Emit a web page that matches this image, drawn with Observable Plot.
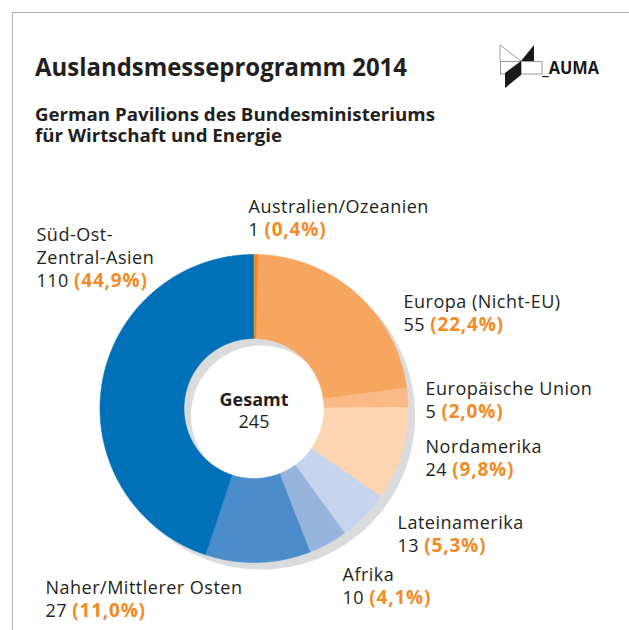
<!DOCTYPE html>
<html>
<head>
<meta charset="utf-8">
<script src="https://cdn.jsdelivr.net/npm/d3@7"></script>
<script src="https://cdn.jsdelivr.net/npm/@observablehq/plot@0.6"></script>
<style>
  body { margin: 0; background: #fff; }
  #page { position: relative; width: 629px; height: 630px; overflow: hidden; background: #fff; }
  #frame { position: absolute; left: 12px; top: 12px; width: 700px; height: 700px;
           border-left: 1.5px solid #b4b4b4; border-top: 1.5px solid #b4b4b4; box-sizing: border-box; }
  #header { position: absolute; left: 0; top: 0; }
  #chart { position: absolute; left: 0; top: 170px; }
  text { font-family: "Open Sans", sans-serif; }
</style>
</head>
<body>
<div id="page">
  <div id="frame"></div>
  <svg id="header" width="629" height="170" xmlns="http://www.w3.org/2000/svg">
    <text id="t1" x="35" y="76" font-size="25" font-weight="700" fill="#231f20">Auslandsmesseprogramm 2014</text>
    <text id="s1" x="35" y="121" font-size="17" font-weight="700" fill="#231f20">German Pavilions des Bundesministeriums</text>
    <text id="s2" x="35" y="142" font-size="17" font-weight="700" fill="#231f20">für Wirtschaft und Energie</text>
    <g id="logo">
      <polyline points="500,61 500,45 521,61" fill="none" stroke="#9a9a9a" stroke-width="1"/>
      <rect x="500.5" y="61.5" width="20.5" height="12.5" fill="none" stroke="#9a9a9a" stroke-width="1"/>
      <rect x="521" y="61.5" width="21" height="12.5" fill="none" stroke="#9a9a9a" stroke-width="1"/>
      <polygon points="534,45 534,61 521,61" fill="#1a1a1a"/>
      <polygon points="521,61 521,75 505,88 505,73" fill="#1a1a1a"/>
      <text id="logoText" x="542" y="74" font-size="18" font-weight="700" fill="#1a1a1a">_AUMA</text>
    </g>
  </svg>
  <div id="chart"></div>
</div>
<script>
// ---------- data ----------
const regions = ["Australien/Ozeanien", "Europa (Nicht-EU)", "Europäische Union", "Nordamerika",
                 "Lateinamerika", "Afrika", "Naher/Mittlerer Osten", "Süd-Ost-Zentral-Asien"];
const labelNames = ["Australien/Ozeanien", "Europa (Nicht-EU)", "Europäische Union", "Nordamerika",
                    "Lateinamerika", "Afrika", "Naher/Mittlerer Osten", "Süd-Ost-\nZentral-Asien"];
const counts = [1, 55, 5, 24, 13, 10, 27, 110];
const shares = ["0,4%", "22,4%", "2,0%", "9,8%", "5,3%", "4,1%", "11,0%", "44,9%"];
const sliceColors = ["#f18a2b", "#f7a660", "#f9ba87", "#fdd5b0", "#c6d4ee", "#96b4dc", "#4a8dca", "#0071b9"];
const centerTitle = "Gesamt";

// ---------- layout (annotation placement, px relative to donut centre, y up) ----------
const labelX = [-5.5, 149.5, 171.5, 171.5, 143.5, 88.5, -208.5, -217.5];
const labelY = [196, 101, 14, -44, -120, -172, -185, 168];
const R_OUT = 154, R_IN = 70, SHADOW = 7, LINE_H = 23, FS = 18, LS = 0.5, FS_PCT = 19, LS_PCT = 0.8;
const DARK = "#231f20", ORANGE = "#f28a26", FONT = "Open Sans";

// header text compression to match reference widths
function fit(id, w) {
  const el = document.getElementById(id);
  const n = el.getComputedTextLength();
  el.setAttribute("textLength", w);
  el.setAttribute("lengthAdjust", "spacingAndGlyphs");
  return w / n;
}
fit("t1", 372);
const k = fit("s1", 400);
const s2 = document.getElementById("s2");
fit("s2", s2.getComputedTextLength() * k);
fit("logoText", 57);

// ---------- geometry ----------
const total = d3.sum(counts);
const arcs = d3.pie().sort(null).value(d => d)(counts);
function ring(a0, a1, ro, ri, cx = 0, cy = 0) {
  const n = Math.max(2, Math.ceil((a1 - a0) / (Math.PI / 360)));
  const pts = [];
  for (let i = 0; i <= n; i++) { const a = a0 + (a1 - a0) * i / n; pts.push({x: cx + ro * Math.sin(a), y: cy + ro * Math.cos(a)}); }
  for (let i = n; i >= 0; i--) { const a = a0 + (a1 - a0) * i / n; pts.push({x: cx + ri * Math.sin(a), y: cy + ri * Math.cos(a)}); }
  pts.push(pts[0]);
  return pts;
}
function disc(r, cx, cy) {
  const pts = [];
  for (let i = 0; i <= 720; i++) { const a = 2 * Math.PI * i / 720; pts.push({x: cx + r * Math.sin(a), y: cy + r * Math.cos(a)}); }
  return pts;
}

// text measuring for the mixed-style count line
const ctx = document.createElement("canvas").getContext("2d");
ctx.font = `${FS}px "${FONT}"`;
const nameRows = [], countRows = [], shareRows = [];
labelNames.forEach((name, i) => {
  const lines = name.split("\n");
  lines.forEach((t, j) => nameRows.push({x: labelX[i], y: labelY[i] - j * LINE_H, t}));
  const yb = labelY[i] - lines.length * LINE_H;
  const c = String(counts[i]);
  countRows.push({x: labelX[i], y: yb, t: c});
  const w = ctx.measureText(c + " ").width + LS * (c.length + 1);
  shareRows.push({x: labelX[i] + w, y: yb, t: `(${shares[i]})`});
});

const order = [1, 2, 3, 4, 5, 6, 7, 0]; // draw thin sliver last
const sliceMarks = order.map(i => Plot.line(ring(arcs[i].startAngle, arcs[i].endAngle, R_OUT, R_IN),
  {x: "x", y: "y", fill: sliceColors[i], stroke: sliceColors[i], strokeWidth: 0.6, title: () => regions[i]}));

const plot = Plot.plot({
  width: 629, height: 460, margin: 0,
  x: {domain: [-253.5, 375.5], axis: null},
  y: {domain: [-222, 238], axis: null},
  style: {background: "transparent", overflow: "visible"},
  marks: [
    Plot.line(disc(R_OUT, SHADOW, -SHADOW), {x: "x", y: "y", fill: "#dadbdd", stroke: "none"}),
    Plot.line(disc(R_IN, SHADOW, -SHADOW), {x: "x", y: "y", fill: "#ffffff", stroke: "none"}),
    ...sliceMarks,
    Plot.text(nameRows, {x: "x", y: "y", text: "t", textAnchor: "start", lineAnchor: "bottom",
      fontSize: FS, fontFamily: FONT, fill: DARK}),
    Plot.text(countRows, {x: "x", y: "y", text: "t", textAnchor: "start", lineAnchor: "bottom",
      fontSize: FS, fontFamily: FONT, fill: DARK}),
    Plot.text(shareRows, {x: "x", y: "y", text: "t", textAnchor: "start", lineAnchor: "bottom",
      fontSize: FS_PCT, fontFamily: FONT, fontWeight: 700, fill: ORANGE}),
    Plot.text([centerTitle], {x: () => 0, y: () => 0, text: d => d, dy: -3, textAnchor: "middle", lineAnchor: "bottom",
      fontSize: 18, fontFamily: FONT, fontWeight: 700, fill: DARK}),
    Plot.text([total], {x: () => 0, y: () => 0, text: d => String(d), dy: 19, textAnchor: "middle", lineAnchor: "bottom",
      fontSize: 18, fontFamily: FONT, fill: DARK})
  ]
});
// letter spacing on the label groups (Plot puts constant font attributes on each mark's <g>)
plot.querySelectorAll("g[font-size]").forEach(g => {
  const fs = g.getAttribute("font-size"), fw = g.getAttribute("font-weight");
  if (fs === String(FS_PCT) && fw) g.style.letterSpacing = LS_PCT + "px";
  else if (fs === String(FS) && !fw && g.querySelectorAll("text").length > 2) g.style.letterSpacing = LS + "px";
});
document.getElementById("chart").appendChild(plot);
</script>
</body>
</html>
